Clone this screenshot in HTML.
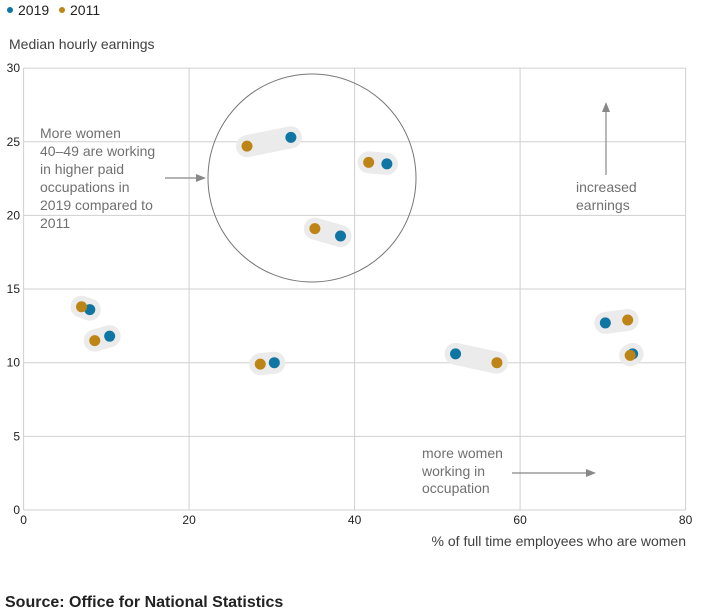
<!DOCTYPE html>
<html><head><meta charset="utf-8"><style>
body{margin:0;background:#fff;font-family:"Liberation Sans",sans-serif;}
svg{display:block}
text{font-family:"Liberation Sans",sans-serif;}
</style></head><body>
<svg id="chart" width="705" height="612">
<g>
<circle cx="10" cy="10" r="3" fill="#0f75a3"/>
<text x="18" y="15" font-size="14" fill="#222">2019</text>
<circle cx="62" cy="10" r="3" fill="#bd8515"/>
<text x="70" y="15" font-size="14" fill="#222">2011</text>
</g>
<text x="9" y="49" font-size="14" fill="#414042">Median hourly earnings</text>
<text x="686" y="546" font-size="14" fill="#414042" text-anchor="end">% of full time employees who are women</text>
<g id="grid"></g>
<g id="ann">
<circle cx="312" cy="178" r="104" fill="none" stroke="#777" stroke-width="1"/>
<text font-size="14" fill="#707070"><tspan x="40" y="138">More women</tspan><tspan x="40" y="156">40–49 are working</tspan><tspan x="40" y="174">in higher paid</tspan><tspan x="40" y="192">occupations in</tspan><tspan x="40" y="210">2019 compared to</tspan><tspan x="40" y="228">2011</tspan></text>
<line x1="165" y1="178" x2="198" y2="178" stroke="#888" stroke-width="1.2"/>
<polygon points="206,178 196,174 196,182" fill="#888"/>
<line x1="606" y1="175" x2="606" y2="110" stroke="#888" stroke-width="1.2"/>
<polygon points="606,102 602,112 610,112" fill="#888"/>
<text font-size="14" fill="#707070"><tspan x="576" y="192">increased</tspan><tspan x="576" y="210">earnings</tspan></text>
<text font-size="14" fill="#707070"><tspan x="422" y="458">more women</tspan><tspan x="422" y="476">working in</tspan><tspan x="422" y="493">occupation</tspan></text>
<line x1="512" y1="473" x2="588" y2="473" stroke="#888" stroke-width="1.2"/>
<polygon points="596,473 586,469 586,477" fill="#888"/>
</g>
<g id="marks"></g>
<text x="5" y="607" font-size="16" font-weight="bold" fill="#222">Source: Office for National Statistics</text>
</svg>
<script>
const xTicks=[0,20,40,60,80];
const yTicks=[0,5,10,15,20,25,30];
const x2019=[32.3,43.9,38.3,8.0,10.4,30.3,52.2,70.3,73.6];
const y2019=[25.3,23.5,18.6,13.6,11.8,10.0,10.6,12.7,10.6];
const x2011=[27.0,41.7,35.2,7.0,8.6,28.6,57.2,73.0,73.3];
const y2011=[24.7,23.6,19.1,13.8,11.5,9.9,10.0,12.9,10.5];
const X=v=>23.6+v*8.275, Y=v=>510-v*14.73;
const NS="http://www.w3.org/2000/svg";
const grid=document.getElementById('grid'), marks=document.getElementById('marks');
function mk(tag,attrs,parent){const e=document.createElementNS(NS,tag);for(const k in attrs)e.setAttribute(k,attrs[k]);parent.appendChild(e);return e;}
xTicks.forEach(t=>{
 const l=mk('line',{x1:X(t),x2:X(t),y1:Y(30),y2:Y(0),stroke:'#d0d0d0'},grid);
 
 
 const tx=mk('text',{x:X(t),y:524,'font-size':12,'text-anchor':'middle',fill:'#222'},grid);
 tx.textContent=t;
 
 
});
yTicks.forEach(t=>{
 const l=mk('line',{x1:X(0),x2:X(80),y1:Y(t),y2:Y(t),stroke:'#d0d0d0'},grid);
 
 
 const tx=mk('text',{x:20,y:Y(t)+4,'font-size':12,'text-anchor':'end',fill:'#222'},grid);
 tx.textContent=t;
 
 
});
x2019.forEach((v,i)=>{
 const c=mk('line',{x1:X(v),y1:Y(y2019[i]),x2:X(x2011[i]),y2:Y(y2011[i]),stroke:'#ebebeb','stroke-width':22,'stroke-linecap':'round'},marks);
 
 
});
x2019.forEach((v,i)=>{
 const a=mk('circle',{cx:X(v),cy:Y(y2019[i]),r:5.5,fill:'#0f75a3'},marks);
 
 
 const b=mk('circle',{cx:X(x2011[i]),cy:Y(y2011[i]),r:5.5,fill:'#bd8515'},marks);
 
 
});
</script>
</body></html>
